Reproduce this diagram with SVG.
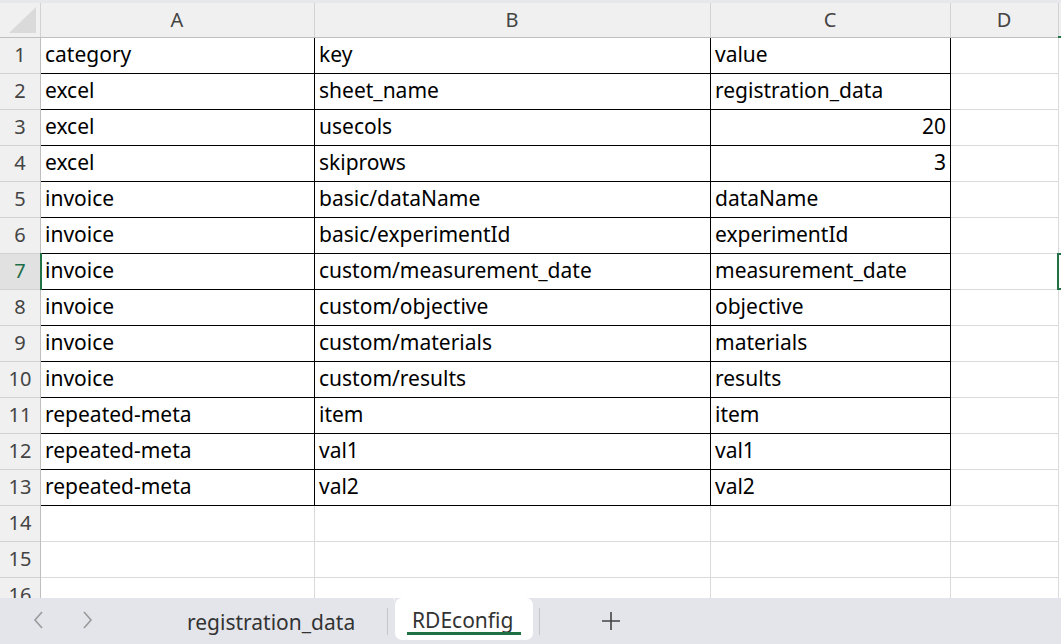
<svg xmlns="http://www.w3.org/2000/svg" width="1061" height="644" viewBox="0 0 1061 644">
<style>
.t{font-family:"Noto Sans","Liberation Sans",sans-serif;font-size:21px;fill:#000}
.h{font-family:"Noto Sans","Liberation Sans",sans-serif;font-size:20px;fill:#444;text-anchor:middle}
.r{text-anchor:end}
.g{stroke:#dadada;stroke-width:1;fill:none}
.b{stroke:#000;stroke-width:1;fill:none}
.hs{stroke:#d2d2d2;stroke-width:1;fill:none}
.tab{font-family:"Noto Sans","Liberation Sans",sans-serif;font-size:21px;fill:#333}
</style>
<rect x="0" y="0" width="1061" height="644" fill="#fff"/>
<!-- top band and headers -->
<rect x="0" y="0" width="1061" height="3" fill="#e6e8ec"/>
<rect x="0" y="3" width="1061" height="34" fill="#f0f0f0"/>
<rect x="0" y="37" width="40" height="607" fill="#f0f0f0"/>
<rect x="0" y="253" width="40" height="36" fill="#e1e1e1"/>
<polygon points="9,33 36,33 36,7" fill="#dadada"/>
<g id="header-lines">
<path class="hs" d="M40.5 3V37M314.5 3V37M710.5 3V37M950.5 3V37M1058.5 3V37"/>
<path class="hs" d="M0 73.5H40M0 109.5H40M0 145.5H40M0 181.5H40M0 217.5H40M0 253.5H40M0 289.5H40M0 325.5H40M0 361.5H40M0 397.5H40M0 433.5H40M0 469.5H40M0 505.5H40M0 541.5H40M0 577.5H40"/>
<path stroke="#bfbfbf" d="M0 37.5H1061M40.5 37V644"/>
</g>
<g id="col-headers">
<text class="h" x="177" y="27">A</text>
<text class="h" x="512" y="27">B</text>
<text class="h" x="830" y="27">C</text>
<text class="h" x="1004" y="27">D</text>
</g>
<g id="row-headers">
<text class="h" x="20" y="62">1</text>
<text class="h" x="20" y="98">2</text>
<text class="h" x="20" y="134">3</text>
<text class="h" x="20" y="170">4</text>
<text class="h" x="20" y="206">5</text>
<text class="h" x="20" y="242">6</text>
<text class="h" x="20" y="278" style="fill:#1e6e4a">7</text>
<text class="h" x="20" y="314">8</text>
<text class="h" x="20" y="350">9</text>
<text class="h" x="20" y="386">10</text>
<text class="h" x="20" y="422">11</text>
<text class="h" x="20" y="458">12</text>
<text class="h" x="20" y="494">13</text>
<text class="h" x="20" y="530">14</text>
<text class="h" x="20" y="566">15</text>
<text class="h" x="20" y="602">16</text>
</g>
<g id="gridlines">
<path class="g" d="M950 73.5H1058M950 109.5H1058M950 145.5H1058M950 181.5H1058M950 217.5H1058M950 253.5H1058M950 289.5H1058M950 325.5H1058M950 361.5H1058M950 397.5H1058M950 433.5H1058M950 469.5H1058M950 505.5H1058"/>
<path class="g" d="M41 541.5H1058M41 577.5H1058M314.5 506V600M710.5 506V600M950.5 506V600M1058.5 38V600"/>
</g>
<g id="borders">
<path class="b" d="M41 73.5H951M41 109.5H951M41 145.5H951M41 181.5H951M41 217.5H951M41 253.5H951M41 289.5H951M41 325.5H951M41 361.5H951M41 397.5H951M41 433.5H951M41 469.5H951M41 505.5H951"/>
<path class="b" d="M314.5 38V506M710.5 38V506M950.5 38V506"/>
</g>
<g id="selection">
<path stroke="#217346" stroke-width="2" fill="none" d="M41 253V290"/>
<path stroke="#217346" stroke-width="2" fill="none" d="M1061 254H1058V289H1061"/>
<path stroke="#217346" stroke-width="2" d="M1058 37H1061"/>
</g>
<g id="cells">
<text class="t" x="45" y="62">category</text><text class="t" x="319" y="62">key</text><text class="t" x="715" y="62">value</text>
<text class="t" x="45" y="98">excel</text><text class="t" x="319" y="98">sheet_name</text><text class="t" x="715" y="98">registration_data</text>
<text class="t" x="45" y="134">excel</text><text class="t" x="319" y="134">usecols</text><text class="t r" x="946" y="134">20</text>
<text class="t" x="45" y="170">excel</text><text class="t" x="319" y="170">skiprows</text><text class="t r" x="946" y="170">3</text>
<text class="t" x="45" y="206">invoice</text><text class="t" x="319" y="206">basic/dataName</text><text class="t" x="715" y="206">dataName</text>
<text class="t" x="45" y="242">invoice</text><text class="t" x="319" y="242">basic/experimentId</text><text class="t" x="715" y="242">experimentId</text>
<text class="t" x="45" y="278">invoice</text><text class="t" x="319" y="278">custom/measurement_date</text><text class="t" x="715" y="278">measurement_date</text>
<text class="t" x="45" y="314">invoice</text><text class="t" x="319" y="314">custom/objective</text><text class="t" x="715" y="314">objective</text>
<text class="t" x="45" y="350">invoice</text><text class="t" x="319" y="350">custom/materials</text><text class="t" x="715" y="350">materials</text>
<text class="t" x="45" y="386">invoice</text><text class="t" x="319" y="386">custom/results</text><text class="t" x="715" y="386">results</text>
<text class="t" x="45" y="422">repeated-meta</text><text class="t" x="319" y="422">item</text><text class="t" x="715" y="422">item</text>
<text class="t" x="45" y="458">repeated-meta</text><text class="t" x="319" y="458">val1</text><text class="t" x="715" y="458">val1</text>
<text class="t" x="45" y="494">repeated-meta</text><text class="t" x="319" y="494">val2</text><text class="t" x="715" y="494">val2</text>
</g>
<g id="tabbar">
<rect x="0" y="598" width="1061" height="46" fill="#e3e5ea"/>
<rect x="393" y="592" width="142" height="6" fill="#fff"/>
<path d="M385 598 Q393 598 393 590 L393 598Z" fill="#fff"/>
<rect x="395" y="598" width="138" height="42" rx="7" fill="#fff"/>
<path d="M393 598H395V606Q395 598 393 598Z" fill="#fff"/>
<path d="M0 598V598" />
<rect x="387" y="608" width="1" height="27" fill="#c4c6cb"/>
<rect x="539" y="608" width="1" height="27" fill="#c4c6cb"/>
<path d="M42 612L35 620L42 628" stroke="#9a9a9a" stroke-width="1.6" fill="none"/>
<path d="M84 612L91 620L84 628" stroke="#9a9a9a" stroke-width="1.6" fill="none"/>
<path d="M611 612V630M602 621H620" stroke="#444" stroke-width="1.6" fill="none"/>
<text class="tab" x="187" y="630">registration_data</text>
<text class="tab" x="412" y="628">RDEconfig</text>
<rect x="407" y="632" width="114" height="3" fill="#1e7145"/>
</g>
</svg>
